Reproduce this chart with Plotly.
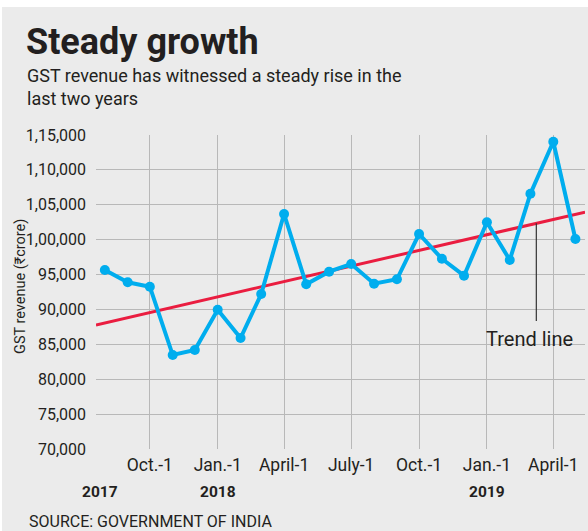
import numpy as np
import pandas as pd
import plotly.graph_objects as go

# ---- data ----
months = ["2017-08-01", "2017-09-01", "2017-10-01", "2017-11-01", "2017-12-01",
          "2018-01-01", "2018-02-01", "2018-03-01", "2018-04-01", "2018-05-01",
          "2018-06-01", "2018-07-01", "2018-08-01", "2018-09-01", "2018-10-01",
          "2018-11-01", "2018-12-01", "2019-01-01", "2019-02-01", "2019-03-01",
          "2019-04-01", "2019-05-01"]
revenue = [95650, 93890, 93260, 83470, 84190, 89960, 85910, 92210, 103680, 93600,
           95410, 96510, 93690, 94320, 100810, 97270, 94840, 102490, 97090, 106590,
           114040, 100100]
x_tick_dates = ["2017-10-01", "2018-01-01", "2018-04-01", "2018-07-01",
                "2018-10-01", "2019-01-01", "2019-04-01"]
x_tick_labels = ["Oct.-1", "Jan.-1", "April-1", "July-1", "Oct.-1", "Jan.-1", "April-1"]
year_dates = ["2017-07-26", "2018-01-01", "2019-01-01"]
year_labels = ["2017", "2018", "2019"]
y_tick_vals = [70000, 75000, 80000, 85000, 90000, 95000, 100000, 105000, 110000, 115000]
y_tick_labels = ["70,000", "75,000", "80,000", "85,000", "90,000", "95,000",
                 "1,00,000", "1,05,000", "1,10,000", "1,15,000"]
x_range = ["2017-07-20", "2019-05-14"]
trend_label_date = "2019-03-09"

# ---- layout geometry ----
W, H = 588, 531
L, R, T, B = 96, 3, 135, 82
PW, PH = W - L - R, H - T - B

def px(x):
    return (x - L) / PW

def py(y):
    return (H - B - y) / PH

FONT = "Roboto, sans-serif"
NARROW = "Liberation Sans Narrow, Roboto, sans-serif"
TXT = "#231f20"
BG = "#ebebeb"
GRID = "#b8b8b8"

# trend line (least squares over time)
d = pd.to_datetime(months)
t0 = pd.Timestamp("2017-01-01")
days = np.array([(v - t0).days for v in d], dtype=float)
slope, intercept = np.polyfit(days, np.array(revenue, dtype=float), 1)
xr = pd.to_datetime(x_range)
tr_days = np.array([(v - t0).days for v in xr], dtype=float)
tr_vals = slope * tr_days + intercept
lab_day = (pd.Timestamp(trend_label_date) - t0).days
lab_val = slope * lab_day + intercept

fig = go.Figure()
fig.add_trace(go.Scatter(x=list(xr), y=list(tr_vals), mode="lines",
                         line=dict(color="#ea1d40", width=3), hoverinfo="skip"))
fig.add_trace(go.Scatter(x=months, y=revenue, mode="lines+markers",
                         line=dict(color="#00adee", width=4),
                         marker=dict(color="#00adee", size=10)))

fig.update_layout(
    width=W, height=H,
    margin=dict(l=L, r=R, t=T, b=B),
    paper_bgcolor=BG, plot_bgcolor=BG,
    showlegend=False,
    font=dict(family=FONT, color=TXT),
    xaxis=dict(type="date", range=x_range, tickvals=x_tick_dates, ticktext=x_tick_labels,
               showgrid=True, gridcolor=GRID, gridwidth=1.3, zeroline=False,
               showline=False, ticks="", tickfont=dict(size=17.5, color=TXT, family=FONT),
               ticklabelstandoff=3),
    yaxis=dict(range=[70000, 115000], tickvals=y_tick_vals, ticktext=y_tick_labels,
               showgrid=True, gridcolor=GRID, gridwidth=1.3, zeroline=False,
               showline=False, ticks="", tickfont=dict(size=16, color=TXT, family=NARROW),
               ticklabelstandoff=9),
)

shapes = [
    dict(type="rect", xref="paper", yref="paper", x0=px(-5), x1=px(W + 5),
         y0=py(7), y1=py(-5), fillcolor="white", line=dict(width=0), layer="above"),
    dict(type="rect", xref="paper", yref="paper", x0=px(-5), x1=px(2),
         y0=py(H + 5), y1=py(-5), fillcolor="white", line=dict(width=0), layer="above"),
    dict(type="line", xref="x", yref="y", x0=trend_label_date, x1=trend_label_date,
         y0=lab_val, y1=lab_val - 14000, line=dict(color="#333333", width=1.2)),
]
fig.update_layout(shapes=shapes)

ann = [
    dict(text="<b>Steady growth</b>", x=px(24), y=py(42), xanchor="left", yanchor="middle",
         font=dict(size=36, color=TXT)),
    dict(text="GST revenue has witnessed a steady rise in the<br>last two years",
         x=px(25), y=py(87), xanchor="left", yanchor="middle", align="left",
         font=dict(size=18, color=TXT)),
    dict(text="GST revenue (₹crore)", x=px(20), y=py(287), xanchor="center", yanchor="middle",
         textangle=-90, font=dict(size=14.5, color=TXT)),
    dict(text="SOURCE: GOVERNMENT OF INDIA", x=px(27), y=py(521), xanchor="left",
         yanchor="middle", font=dict(size=16, color=TXT)),
    dict(text="Trend line", x=px(529), y=py(339), xanchor="center", yanchor="middle",
         font=dict(size=20, color=TXT)),
]
for a in ann:
    a.update(xref="paper", yref="paper", showarrow=False)
for dt, lb in zip(year_dates, year_labels):
    ann.append(dict(text="<b>" + lb + "</b>", x=dt, xref="x", y=py(492), yref="paper",
                    xanchor="center", yanchor="middle", showarrow=False,
                    font=dict(size=15.5, color=TXT)))
fig.update_layout(annotations=ann)

fig.write_html("out.html", config={"displayModeBar": False},
               post_script="document.body.style.margin='0';document.body.style.overflow='hidden';")
